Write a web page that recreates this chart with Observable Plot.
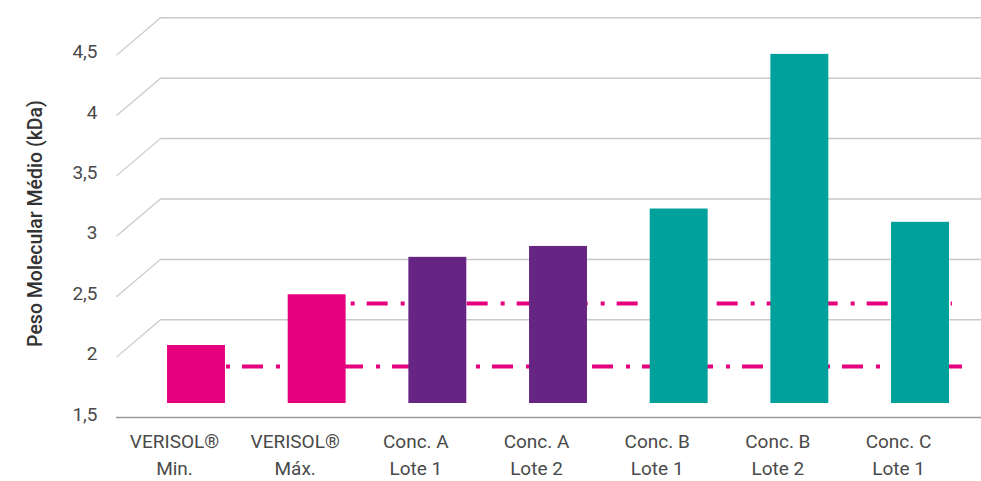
<!DOCTYPE html>
<html><head><meta charset="utf-8">
<script src="https://cdn.jsdelivr.net/npm/d3@7"></script>
<script src="https://cdn.jsdelivr.net/npm/@observablehq/plot@0.6"></script>
<style>body{margin:0;background:#fff}</style>
</head><body><div id="chart"></div>
<script>
// ---- data ----
const categories = ["VERISOL®\nMin.", "VERISOL®\nMáx.", "Conc. A\nLote 1", "Conc. A\nLote 2", "Conc. B\nLote 1", "Conc. B\nLote 2", "Conc. C\nLote 1"];
const values = [1.98, 2.40, 2.71, 2.80, 3.11, 4.39, 3.00];
const groups = ["VERISOL", "VERISOL", "Conc. A", "Conc. A", "Conc. B", "Conc. B", "Conc. C"];
const yTicks = [1.5, 2, 2.5, 3, 3.5, 4, 4.5];
const yTickLabels = ["1,5", "2", "2,5", "3", "3,5", "4", "4,5"];
const refValues = [1.806, 2.328];     // dashed reference levels (VERISOL min / max)
const refStart = [0, 1];              // category where each reference line starts
const yTitle = "Peso Molecular Médio (kDa)";

const groupColors = {"VERISOL": "#e6007e", "Conc. A": "#662483", "Conc. B": "#00a19a", "Conc. C": "#00a19a"};

// ---- layout (3D-like perspective of the original) ----
const W = 981, H = 481;
const x0 = 196, step = 120.67;   // bar centres
const y0 = 403, unit = 120.8;    // baseline of bars, px per kDa
const xi = px => (px - x0) / step;           // pixel -> category index
const yv = py => 1.5 + (y0 - py) / unit;     // pixel -> value
const frontOff = 14 / unit, backOff = 23.3 / unit;
const frontX = xi(116), backX = xi(160), rightX = xi(981);

const bars = categories.map((c, i) => ({i, c, v: values[i], g: groups[i]}));
const grid = yTicks.slice(1).map(t => ({t}));
const ticks = yTicks.map((t, k) => ({t, label: yTickLabels[k]}));
const refs = refValues.map((v, k) => ({v, from: refStart[k], to: [xi(962), xi(952)][k], off: [4, 0][k]}));

const font = "Roboto, 'Noto Sans', sans-serif";

const plot = Plot.plot({
  width: W, height: H,
  marginTop: 0, marginRight: 0, marginBottom: 0, marginLeft: 0,
  style: {fontFamily: font, background: "#fff"},
  x: {type: "linear", domain: [0, 6], range: [x0, x0 + 6 * step], axis: null},
  y: {type: "linear", domain: [1.5, 4.5], range: [y0, y0 - 3 * unit], axis: null},
  marks: [
    // back gridlines
    Plot.ruleY(grid, {y: d => d.t + backOff, x1: backX, x2: rightX, stroke: "#c9c9c9", strokeWidth: 1.5}),
    // perspective diagonals
    Plot.link(grid, {x1: frontX, y1: d => d.t - frontOff, x2: backX, y2: d => d.t + backOff, stroke: "#c9c9c9", strokeWidth: 1.2}),
    // front floor line
    Plot.ruleY([1.5], {y: d => d - frontOff, x1: frontX, x2: rightX, stroke: "#9a9a9a", strokeWidth: 1.5}),
    // dashed reference lines (behind bars)
    ...refs.map(r => Plot.ruleY([r], {y: "v", x1: "from", x2: "to", stroke: "#e6007e", strokeWidth: 4,
      strokeDasharray: "21,13,4,12", strokeDashoffset: r.off})),
    // bars
    Plot.rectY(bars, {x1: d => d.i - 0.24, x2: d => d.i + 0.24, y1: 1.5, y2: "v", fill: d => groupColors[d.g]}),
    // y tick labels
    Plot.text(ticks, {x: xi(97), y: d => d.t - frontOff, dy: -3, text: "label", textAnchor: "end",
      fontSize: 19, fill: "#4a4a4a"}),
    // category labels
    Plot.text(bars, {x: "i", y: 1.5, dx: -22, dy: 26, text: "c", lineAnchor: "top", lineHeight: 1.4,
      fontSize: 19, fill: "#4a4a4a"}),
    // y title
    Plot.text([yTitle], {x: xi(35), y: yv(223), rotate: -90, fontSize: 19.5, fontWeight: 500, fill: "#333"})
  ]
});
document.getElementById("chart").appendChild(plot);
</script>
</body></html>
